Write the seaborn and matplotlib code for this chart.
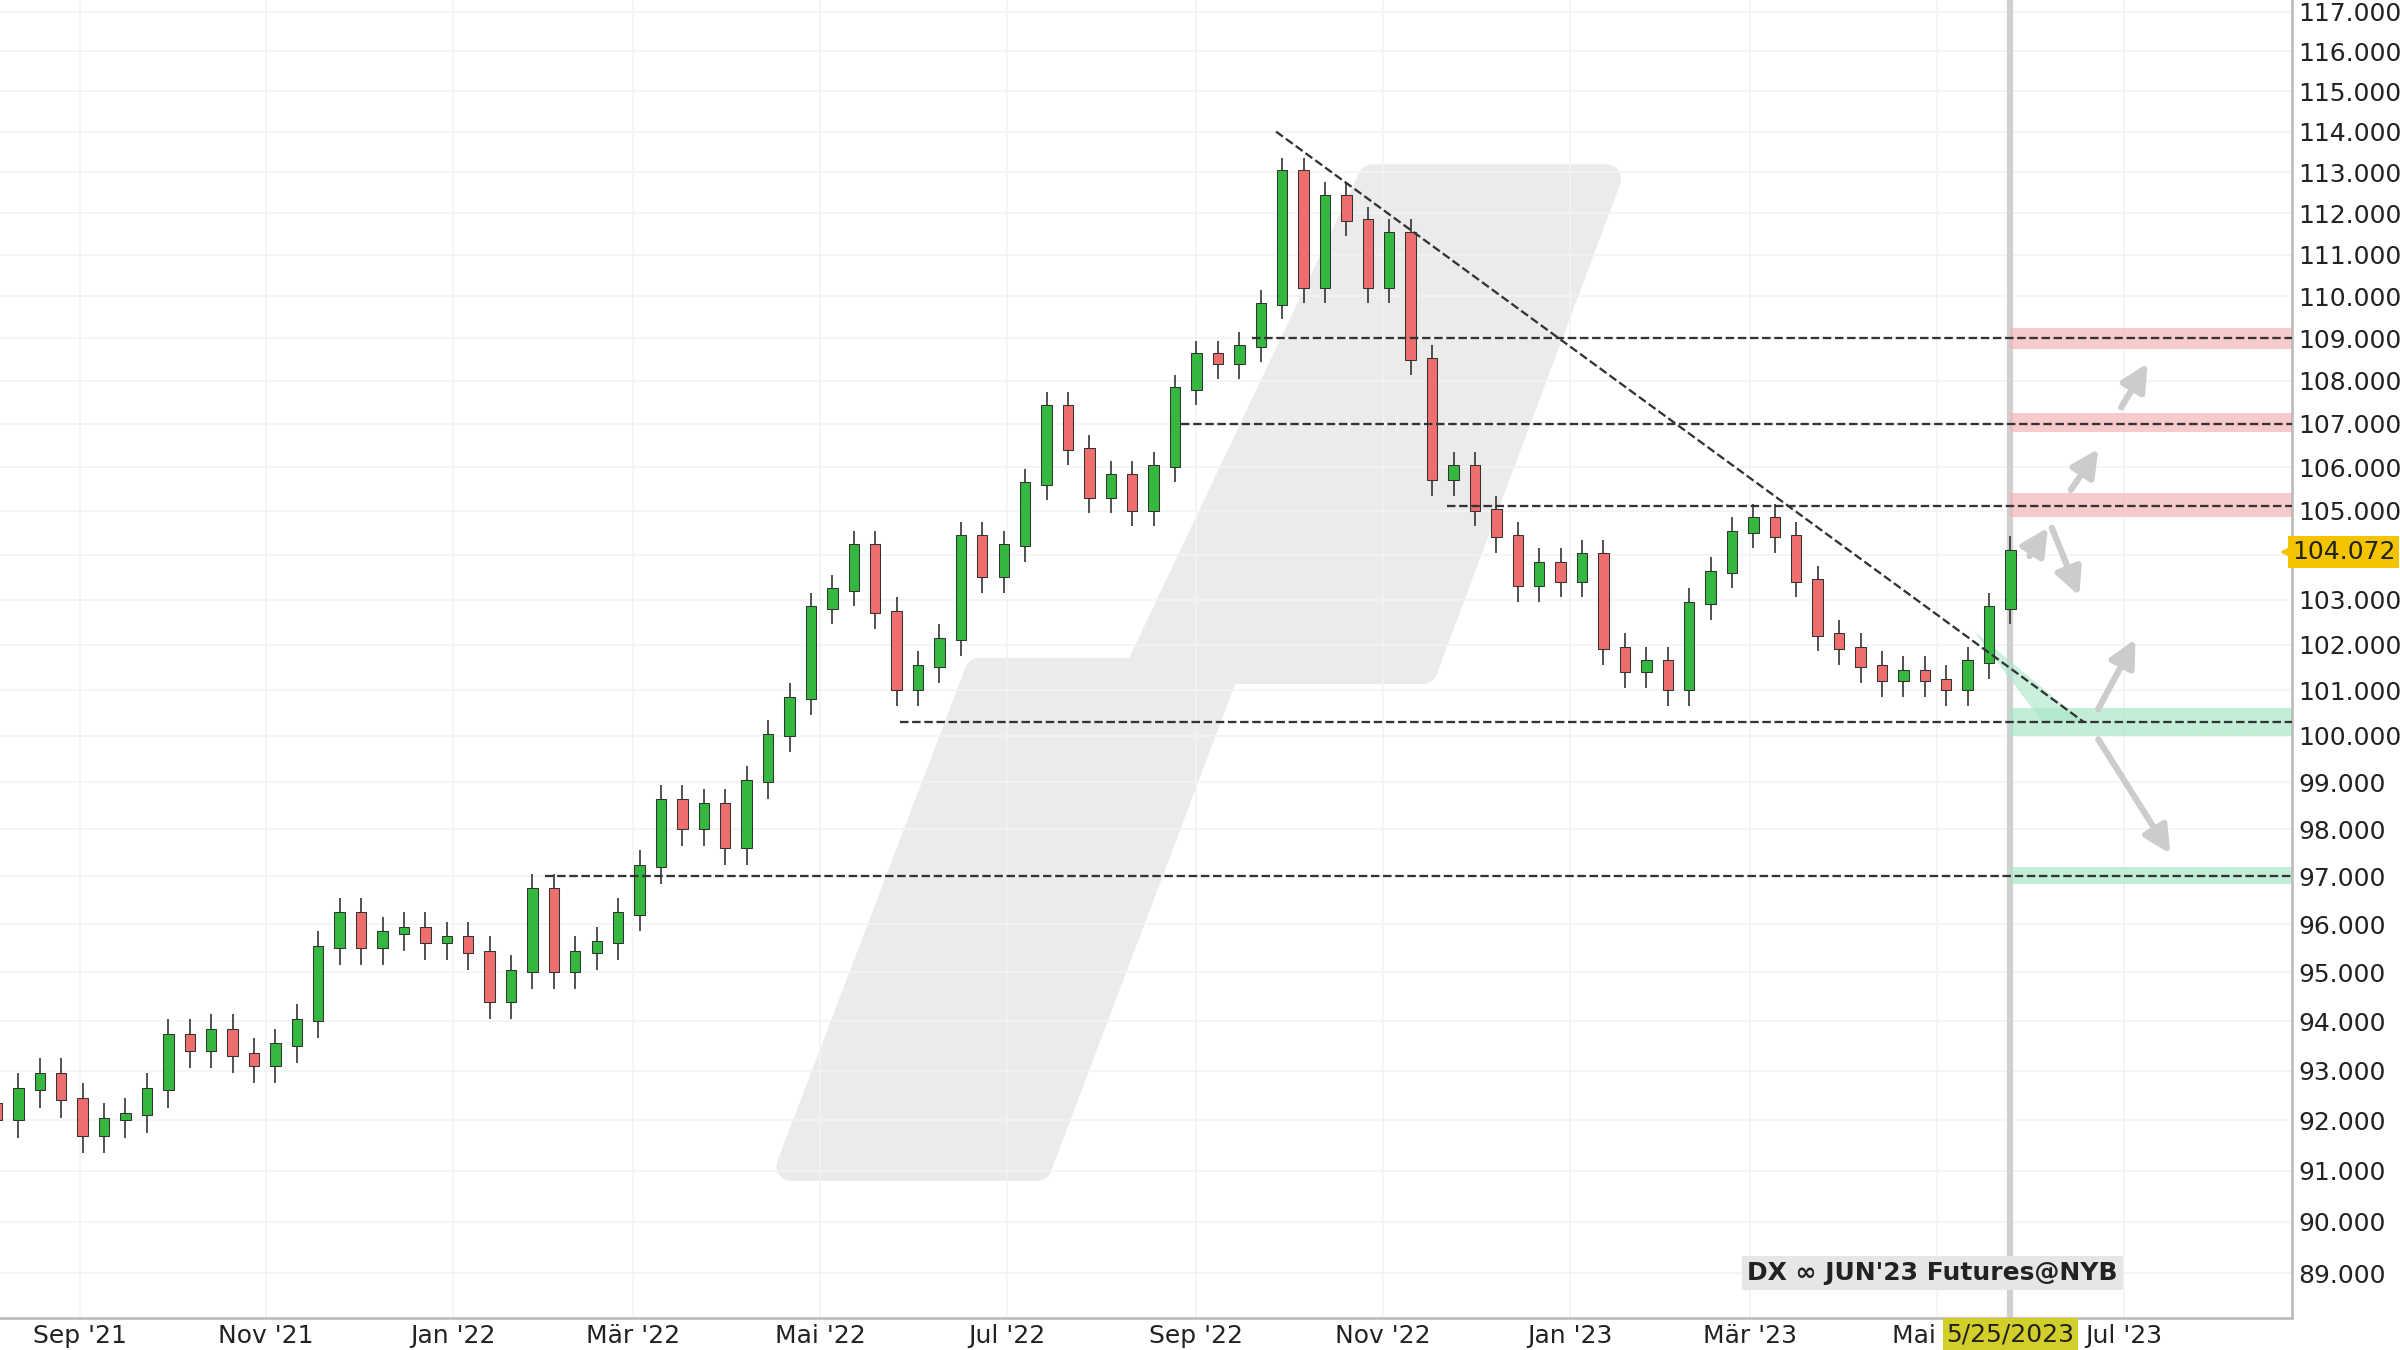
import numpy as np
import pandas as pd
import matplotlib
matplotlib.use("Agg")
import matplotlib.pyplot as plt
import matplotlib.dates as mdates
from matplotlib.patches import Polygon
import seaborn as sns

# ---- data (weekly) ----
closes = [92.0, 92.6, 92.9, 92.4, 91.7, 92.0, 92.1, 92.6, 93.7, 93.4, 93.8, 93.3, 93.1, 93.5, 94.0,
          95.5, 96.2, 95.5, 95.8, 95.9, 95.6, 95.7, 95.4, 94.4, 95.0, 96.7, 95.0, 95.4, 95.6, 96.2,
          97.2, 98.6, 98.0, 98.5, 97.6, 99.0, 100.0, 100.8, 102.8, 103.2, 104.2, 102.7, 101.0, 101.5,
          102.1, 104.4, 103.5, 104.2, 105.6, 107.4, 106.4, 105.3, 105.8, 105.0, 106.0, 107.8, 108.6,
          108.4, 108.8, 109.8, 113.0, 110.2, 112.4, 111.8, 110.2, 111.5, 108.5, 105.7, 106.0, 105.0,
          104.4, 103.3, 103.8, 103.4, 104.0, 101.9, 101.4, 101.6, 101.0, 102.9, 103.6, 104.5, 104.8,
          104.4, 103.4, 102.2, 101.9, 101.5, 101.2, 101.4, 101.2, 101.0, 101.6, 102.8, 104.07]
first_open = 92.3
last_date = "2023-05-25"
levels = [109.0, 107.0, 105.1, 100.3, 97.0]
level_starts = ["2022-09-19", "2022-08-27", "2022-11-22", "2022-05-27", "2022-01-31"]
res_bands = [(108.75, 109.25), (106.8, 107.25), (104.85, 105.4)]
sup_bands = [(100.0, 100.6), (96.85, 97.2)]
trend = [("2022-09-27", 114.0), ("2023-06-18", 100.3)]
last_price = "104.072"
xtick_dates = ["2021-09-01", "2021-11-01", "2022-01-01", "2022-03-01", "2022-05-01", "2022-07-01",
               "2022-09-01", "2022-11-01", "2023-01-01", "2023-03-01", "2023-05-01", "2023-07-01"]
xtick_labels = ["Sep '21", "Nov '21", "Jan '22", "Mär '22", "Mai '22", "Jul '22",
                "Sep '22", "Nov '22", "Jan '23", "Mär '23", "Mai '23", "Jul '23"]
yticks = list(range(89, 118))

sns.set_theme(style="white")
plt.rcParams['font.family'] = ['DejaVu Sans']

dates = pd.date_range(end=last_date, periods=len(closes), freq="7D")
x = mdates.date2num(dates)
c = np.array(closes)
o = np.concatenate([[first_open], c[:-1]])
hi = np.maximum(o, c) + 0.35
lo = np.minimum(o, c) - 0.35

fig = plt.figure(figsize=(16, 9), dpi=150)
ax = fig.add_axes([0.0, 0.024, 0.955, 0.976])
ax.set_yscale("log")
base = mdates.date2num(pd.Timestamp("2021-08-06"))
ax.set_xlim(base, base + 749)
ax.set_ylim(88.15, 117.3)

# watermark
def px(xp, yp):
    return (xp / 1498, 1 - yp / 862)
for pts in ([(517, 763), (678, 763), (800, 440), (640, 440)],
            [(745, 438), (930, 438), (1050, 117), (897, 117)]):
    ax.add_patch(Polygon([px(*p) for p in pts], closed=True, transform=ax.transAxes,
                         facecolor="#ebebeb", edgecolor="#ebebeb", lw=14, joinstyle="round", zorder=0))

ax.set_yticks(yticks)
ax.set_yticklabels(["" if v == 104 else f"{v}.000" for v in yticks])
ax.yaxis.set_minor_locator(matplotlib.ticker.NullLocator())
ax.yaxis.tick_right()
ax.set_xticks(mdates.date2num(pd.to_datetime(xtick_dates)))
ax.set_xticklabels(xtick_labels)
ax.tick_params(axis="both", labelsize=12, colors="#222222", length=0, pad=3)
ax.grid(True, color="#f3f3f3", lw=0.8)
for s in ["top", "left"]:
    ax.spines[s].set_visible(False)
for s in ["right", "bottom"]:
    ax.spines[s].set_color("#bbbbbb")

# candles
up = c >= o
cols = np.where(up, "#35b83f", "#ee6e6e")
ax.vlines(x, lo, hi, color="#333333", lw=0.8, zorder=3)
ax.bar(x, np.abs(c - o) + 0.05, bottom=np.minimum(o, c), width=3.4, color=cols,
       edgecolor="#333333", linewidth=0.5, zorder=4)

xr = base + 749
xl = mdates.date2num(pd.Timestamp(last_date))
for lv, st in zip(levels, level_starts):
    ax.plot([mdates.date2num(pd.Timestamp(st)), xr], [lv, lv], ls="--", color="#333333", lw=1.1, zorder=5)
for a, b in res_bands:
    ax.fill_between([xl, xr], a, b, color="#f4b6b6", alpha=0.7, zorder=2, lw=0)
for a, b in sup_bands:
    ax.fill_between([xl, xr], a, b, color="#a8e6c6", alpha=0.7, zorder=2, lw=0)
t0 = mdates.date2num(pd.Timestamp(trend[0][0])); t1 = mdates.date2num(pd.Timestamp(trend[1][0]))
ax.plot([t0, t1], [trend[0][1], trend[1][1]], ls="--", color="#333333", lw=1.1, zorder=5)
ax.add_patch(Polygon([(base + 1290 / 2, 102.3), (t1, 100.3), (base + 1335 / 2, 100.3)],
                     facecolor="#a8e6c6", alpha=0.6, lw=0, zorder=2))
ax.axvline(xl, color="#d0d0d0", lw=3, zorder=1)

# scenario arrows
arrows = [((1325, 103.9), (1340, 104.7)), ((1340, 104.7), (1360, 103.0)),
          ((1352, 105.4), (1373, 106.5)), ((1385, 107.3), (1405, 108.5)),
          ((1370, 100.5), (1397, 102.2)), ((1370, 100.0), (1420, 97.4))]
for (x0, y0), (x1, y1) in arrows:
    ax.annotate("", xy=(base + x1 / 2, y1), xytext=(base + x0 / 2, y0),
                arrowprops=dict(arrowstyle="-|>,head_width=0.45,head_length=0.9", color="#cccccc", lw=3),
                zorder=6)

# labels
ax.text(1.0, 104.07, last_price, transform=ax.get_yaxis_transform(), ha="left", va="center",
        fontsize=12, color="#222222",
        bbox=dict(boxstyle="square,pad=0.15", fc="#f5c400", ec="none"), clip_on=False)
ax.plot([0.9985], [104.07], marker="<", color="#f5c400", ms=7, transform=ax.get_yaxis_transform(), clip_on=False)
ax.text(base + 1263 / 2, 89.0, "DX \u221e JUN'23 Futures@NYB", ha="center", va="center", fontsize=12,
        fontweight="bold", color="#222222", bbox=dict(boxstyle="square,pad=0.2", fc="#e6e6e6", ec="none"), zorder=7)
ax.text(xl, -0.0125, "5/25/2023", transform=ax.get_xaxis_transform(), ha="center", va="center",
        fontsize=12, color="#222222", bbox=dict(boxstyle="square,pad=0.15", fc="#d2cf2a", ec="none"),
        clip_on=False, zorder=8)

fig.savefig("out.png", dpi=150, facecolor="white")
